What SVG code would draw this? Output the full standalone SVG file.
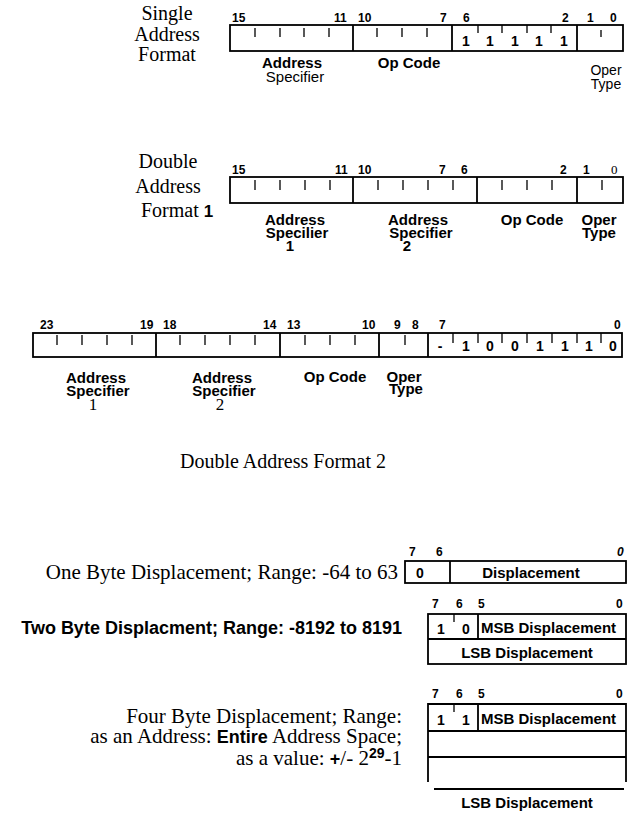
<svg xmlns="http://www.w3.org/2000/svg" width="628" height="815" viewBox="0 0 628 815">
<style>
.serif{font-family:"Liberation Serif",serif;font-size:20px;fill:#000}
.serif21{font-family:"Liberation Serif",serif;font-size:21px;fill:#000}
.lbl{font-family:"Liberation Sans",sans-serif;font-weight:bold;font-size:15px;fill:#000}
.reg{font-family:"Liberation Sans",sans-serif;font-size:15px;fill:#000}
.small{font-family:"Liberation Sans",sans-serif;font-size:14px;fill:#000}
.num{font-family:"Liberation Sans",sans-serif;font-weight:bold;font-size:12px;fill:#000}
.val{font-family:"Liberation Sans",sans-serif;font-weight:bold;font-size:14px;fill:#000;text-anchor:middle}
.box{fill:none;stroke:#000;stroke-width:1.8}
.div{fill:none;stroke:#000;stroke-width:1.8}
.tick{fill:none;stroke:#000;stroke-width:1.3}
.mid{text-anchor:middle}
.end{text-anchor:end}
</style>
<rect width="628" height="815" fill="#fff"/>

<g id="single-address-format">
  <text class="serif mid" x="167" y="20">Single</text>
  <text class="serif mid" x="167" y="41">Address</text>
  <text class="serif mid" x="167" y="61">Format</text>
  <rect class="box" x="230" y="25" width="393" height="26"/>
  <path class="div" d="M353 25V51M452 25V51M577 25V51"/>
  <path class="tick" d="M255 28V37M280 28V37M304 28V37M329 28V37M377 28V37M402 28V37M427 28V37M478 25V33M502 25V33M527 25V33M551 25V33M601 30V37"/>
  <text class="val" x="466" y="46">1</text>
  <text class="val" x="490" y="46">1</text>
  <text class="val" x="515" y="46">1</text>
  <text class="val" x="539" y="46">1</text>
  <text class="val" x="564" y="46">1</text>
  <text class="num" x="232" y="22">15</text>
  <text class="num" x="334" y="22">11</text>
  <text class="num" x="358" y="22">10</text>
  <text class="num" x="440" y="22">7</text>
  <text class="num" x="463" y="22">6</text>
  <text class="num" x="562" y="22">2</text>
  <text class="num" x="587" y="22">1</text>
  <text class="num" x="610" y="22">0</text>
  <text class="lbl mid" x="292" y="68">Address</text>
  <text class="reg mid" x="295" y="82">Specifier</text>
  <text class="lbl mid" x="409" y="68">Op Code</text>
  <text class="small mid" x="606" y="75">Oper</text>
  <text class="small mid" x="606" y="89">Type</text>
</g>

<g id="double-address-format-1">
  <text class="serif mid" x="168" y="168">Double</text>
  <text class="serif mid" x="168" y="193">Address</text>
  <text class="serif" x="141" y="217">Format <tspan style="font-family:'Liberation Sans',sans-serif;font-weight:bold;font-size:17px">1</tspan></text>
  <rect class="box" x="230" y="177" width="393" height="26"/>
  <path class="div" d="M353 177V203M477 177V203M577 177V203"/>
  <path class="tick" d="M255 180V190M280 180V190M305 180V190M330 180V190M378 180V190M403 180V190M428 180V190M453 180V190M502 180V190M527 180V190M552 180V190M602 180V190"/>
  <text class="num" x="232" y="174">15</text>
  <text class="num" x="335" y="174">11</text>
  <text class="num" x="358" y="174">10</text>
  <text class="num" x="439" y="174">7</text>
  <text class="num" x="461" y="174">6</text>
  <text class="num" x="560" y="174">2</text>
  <text class="num" x="583" y="174">1</text>
  <text x="611" y="174" style="font-family:'Liberation Serif',serif;font-size:13px">0</text>
  <text class="lbl mid" x="295" y="225">Address</text>
  <text class="lbl mid" x="297" y="238">Specilier</text>
  <text class="lbl mid" x="290" y="251">1</text>
  <text class="lbl mid" x="418" y="225">Address</text>
  <text class="lbl mid" x="421" y="238">Specifier</text>
  <text class="lbl mid" x="407" y="251">2</text>
  <text class="lbl mid" x="532" y="225">Op Code</text>
  <text class="lbl mid" x="599" y="225">Oper</text>
  <text class="lbl mid" x="599" y="238">Type</text>
</g>

<g id="double-address-format-2">
  <rect class="box" x="33" y="333" width="589" height="24"/>
  <path class="div" d="M156 333V357M280 333V357M379 333V357M428 333V357"/>
  <path class="tick" d="M57 335V345M82 335V345M107 335V345M132 335V345M180 335V345M205 335V345M230 335V345M255 335V345M305 335V345M330 335V345M355 335V345M405 335V345M453 333V343M478 333V343M502 333V343M527 333V343M552 333V343M577 333V343M601 333V343"/>
  <text class="val" x="440" y="351">-</text>
  <text class="val" x="466" y="351">1</text>
  <text class="val" x="490" y="351">0</text>
  <text class="val" x="515" y="351">0</text>
  <text class="val" x="540" y="351">1</text>
  <text class="val" x="565" y="351">1</text>
  <text class="val" x="589" y="351">1</text>
  <text class="val" x="613" y="351">0</text>
  <text class="num" x="40" y="329">23</text>
  <text class="num" x="140" y="329">19</text>
  <text class="num" x="163" y="329">18</text>
  <text class="num" x="263" y="329">14</text>
  <text class="num" x="287" y="329">13</text>
  <text class="num" x="362" y="329">10</text>
  <text class="num" x="394" y="329">9</text>
  <text class="num" x="412" y="329">8</text>
  <text class="num" x="439" y="329">7</text>
  <text class="num" x="614" y="329">0</text>
  <text class="lbl mid" x="96" y="383">Address</text>
  <text class="lbl mid" x="98" y="396">Specifier</text>
  <text class="serif mid" x="93" y="410" style="font-size:17px">1</text>
  <text class="lbl mid" x="222" y="383">Address</text>
  <text class="lbl mid" x="224" y="396">Specifier</text>
  <text class="serif mid" x="220" y="410" style="font-size:17px">2</text>
  <text class="lbl mid" x="335" y="382">Op Code</text>
  <text class="lbl mid" x="404" y="382">Oper</text>
  <text class="lbl mid" x="406" y="394">Type</text>
  <text class="serif mid" x="283" y="468">Double Address Format 2</text>
</g>

<g id="one-byte-displacement">
  <text class="serif21 end" x="398" y="579">One Byte Displacement; Range: -64 to 63</text>
  <rect class="box" x="405" y="561" width="221" height="22"/>
  <path class="div" d="M450 561V583"/>
  <text class="val" x="420" y="578">0</text>
  <text class="lbl mid" x="531" y="578">Displacement</text>
  <text class="num" x="409" y="556">7</text>
  <text class="num" x="436" y="556">6</text>
  <text class="num" x="617" y="556" style="font-style:italic">0</text>
</g>

<g id="two-byte-displacement">
  <text class="end" x="402" y="634" style="font-family:'Liberation Sans',sans-serif;font-weight:bold;font-size:18px">Two Byte Displacment;  Range: -8192 to 8191</text>
  <rect class="box" x="428" y="614" width="198" height="50"/>
  <path class="div" d="M428 639H626M478 614V639"/>
  <path class="tick" d="M454 614V622"/>
  <text class="val" x="441" y="634">1</text>
  <text class="val" x="466" y="634">0</text>
  <text class="lbl" x="481" y="633">MSB Displacement</text>
  <text class="lbl mid" x="527" y="658">LSB Displacement</text>
  <text class="num" x="432" y="608">7</text>
  <text class="num" x="456" y="608">6</text>
  <text class="num" x="478" y="608">5</text>
  <text class="num" x="616" y="608">0</text>
</g>

<g id="four-byte-displacement">
  <text class="serif21 end" x="402" y="723">Four Byte Displacement; Range:</text>
  <text class="serif21 end" x="402" y="743">as an Address: <tspan style="font-family:'Liberation Sans',sans-serif;font-weight:bold;font-size:18px">Entire</tspan> Address Space;</text>
  <text class="serif21 end" x="402" y="765">as a value: <tspan style="font-family:'Liberation Sans',sans-serif;font-weight:bold;font-size:18px">+</tspan>/- 2<tspan dy="-7" style="font-family:'Liberation Sans',sans-serif;font-weight:bold;font-size:14px">29</tspan><tspan dy="7">-1</tspan></text>
  <path class="box" d="M428 782V704H626V782"/>
  <path class="div" d="M428 731H626M428 757H626M478 704V731M434 789H624"/>
  <path class="tick" d="M454 704V712"/>
  <text class="val" x="441" y="725">1</text>
  <text class="val" x="466" y="725">1</text>
  <text class="lbl" x="481" y="724">MSB Displacement</text>
  <text class="lbl mid" x="527" y="808">LSB Displacement</text>
  <text class="num" x="432" y="698">7</text>
  <text class="num" x="456" y="698">6</text>
  <text class="num" x="478" y="698">5</text>
  <text class="num" x="616" y="698">0</text>
</g>

<g id="connectors"></g>
</svg>
